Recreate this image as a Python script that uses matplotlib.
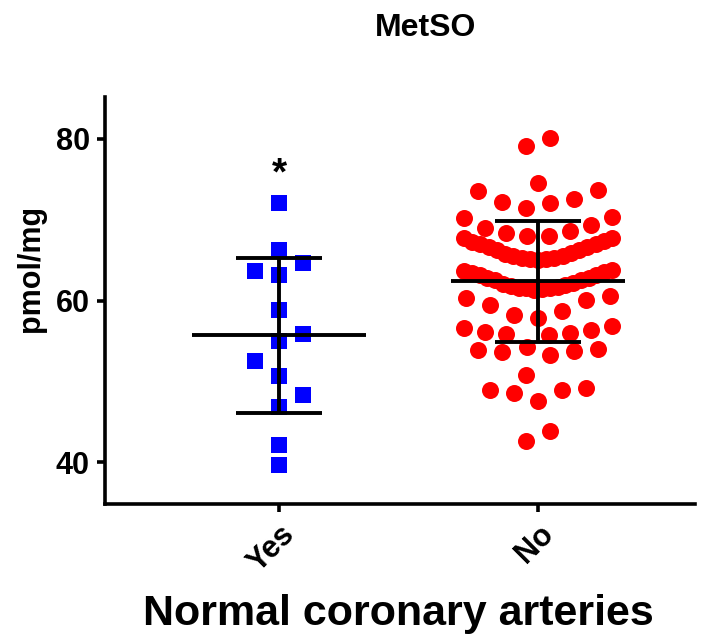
import numpy as np
import matplotlib
matplotlib.use('Agg')
import matplotlib.pyplot as plt

plt.rcParams['font.family'] = ['Liberation Sans', 'DejaVu Sans']
plt.rcParams['font.weight'] = 'bold'

# data
groups = ['Yes', 'No']
yes_vals = [72.1, 66.3, 64.6, 63.7, 63.2, 58.8, 55.9, 55.0, 52.5, 50.7,
            48.3, 46.8, 42.1, 39.6]
no_high = [80.1, 79.1, 74.6, 73.7, 73.6, 72.6, 72.2, 72.1, 71.4, 70.4,
           70.2, 69.3, 69.0, 68.6, 68.4, 68.0, 68.0]
no_band_upper = [65.0, 65.1, 65.2, 65.3, 65.3, 65.5, 65.5, 65.8, 65.9, 66.2,
                 66.3, 66.6, 66.6, 67.0, 67.0, 67.3, 67.4, 67.7, 67.7]
no_band_lower = [61.3, 61.4, 61.5, 61.5, 61.6, 61.7, 61.8, 61.9, 62.1, 62.2,
                 62.5, 62.5, 62.8, 62.8, 63.1, 63.2, 63.4, 63.5, 63.7, 63.8]
no_low = [60.6, 60.3, 60.1, 59.5, 58.7, 58.2, 57.8, 56.9, 56.6, 56.4,
          56.1, 56.0, 55.9, 55.7, 54.3, 54.0, 53.9, 53.8, 53.6, 53.3,
          50.8, 49.2, 48.9, 48.9, 48.5, 47.5, 43.8, 42.6]
no_vals = no_high + no_band_upper + no_band_lower + no_low

title = 'MetSO'
y_label = 'pmol/mg'
x_label = 'Normal coronary arteries'
y_ticks = [40, 60, 80]
star_y = 75.6


def row_offsets(vals, h=3.4, origin=60.95, step=24.0, width=148.0):
    # prism-like column scatter: points binned in rows, spread from the centre out
    vals = np.asarray(vals, dtype=float)
    rows = np.floor((vals - origin) / h).astype(int)
    off = np.zeros(len(vals))
    for r in np.unique(rows):
        idx = np.where(rows == r)[0]
        idx = idx[np.argsort(vals[idx], kind='stable')]
        n = len(idx)
        s = step if n < 2 else min(step, width / (n - 1))
        for k, i in enumerate(idx):
            if n % 2:
                pos = np.ceil(k / 2) * s * (-1 if k % 2 else 1)
            else:
                pos = (k // 2 + 0.5) * s * (-1 if k % 2 == 0 else 1)
            off[i] = pos
    return off


def swarm_offsets(vals, px_y, dx=24.0, dy=17.0):
    # small group: keep on the centre line unless it would touch a neighbour
    vals = np.asarray(vals, dtype=float)
    ypx = vals * px_y
    placed = []
    off = np.zeros(len(vals))
    side = -1
    for i in np.argsort(vals):
        y = ypx[i]
        near = [x0 for x0, y0 in placed if abs(y0 - y) < dy]
        cands = [0.0] + [x0 + sg * dx for x0 in near for sg in (-1, 1)]
        cands.sort(key=lambda c: (abs(c), c * side))
        for c in cands:
            if all(abs(c - x0) >= dx - 1e-6 for x0 in near):
                break
        if c != 0:
            side = -side
        off[i] = c
        placed.append((c, y))
    return off


fig = plt.figure(figsize=(7.04, 6.34), dpi=100)
ax = fig.add_axes([105 / 704, 1 - 504 / 634, 590 / 704, 407 / 634])
ax.set_xlim(-0.672, 1.606)
ax.set_ylim(34.8, 85.2)

p0 = ax.transData.transform((0, 0))
p1 = ax.transData.transform((1, 1))
px_x = p1[0] - p0[0]
px_y = p1[1] - p0[1]

yes_x = 0 + swarm_offsets(yes_vals, px_y) / px_x
no_x = 1 + row_offsets(no_vals) / px_x

ax.scatter(yes_x, yes_vals, marker='s', s=140, color='#0000ff', linewidths=0, zorder=2)
ax.scatter(no_x, no_vals, marker='o', s=150, color='#ff0000', linewidths=0, zorder=2)

# mean +/- SD
for xc, vals in zip([0, 1], [yes_vals, no_vals]):
    m = np.mean(vals)
    sd = np.std(vals, ddof=1)
    ax.plot([xc - 0.335, xc + 0.335], [m, m], color='black', lw=2.8, zorder=3,
            solid_capstyle='butt')
    ax.plot([xc, xc], [m - sd, m + sd], color='black', lw=2.8, zorder=3,
            solid_capstyle='butt')
    for yy in (m - sd, m + sd):
        ax.plot([xc - 0.166, xc + 0.166], [yy, yy], color='black', lw=2.8,
                zorder=3, solid_capstyle='butt')

ax.text(0, star_y, '*', ha='center', va='center', fontsize=28, fontweight='bold')

for side in ['top', 'right']:
    ax.spines[side].set_visible(False)
for side in ['left', 'bottom']:
    ax.spines[side].set_linewidth(2.6)

ax.set_yticks(y_ticks)
ax.set_yticklabels([str(t) for t in y_ticks], fontsize=22, fontweight='bold')
ax.set_xticks([0, 1])
ax.set_xticklabels(groups, rotation=45, ha='right', va='top',
                   rotation_mode='anchor', fontsize=22, fontweight='bold')
ax.tick_params(axis='both', width=2.6, length=6, pad=5)

ax.set_ylabel(y_label, fontsize=22, fontweight='bold')
ax.yaxis.set_label_coords(-0.10, 0.58)

fig.text(426 / 704, 1 - 36 / 634, title, ha='center', va='baseline',
         fontsize=23, fontweight='bold')
fig.text(398 / 704, 1 - 625 / 634, x_label, ha='center', va='baseline',
         fontsize=31, fontweight='bold')

fig.savefig('out.png', dpi=100)
